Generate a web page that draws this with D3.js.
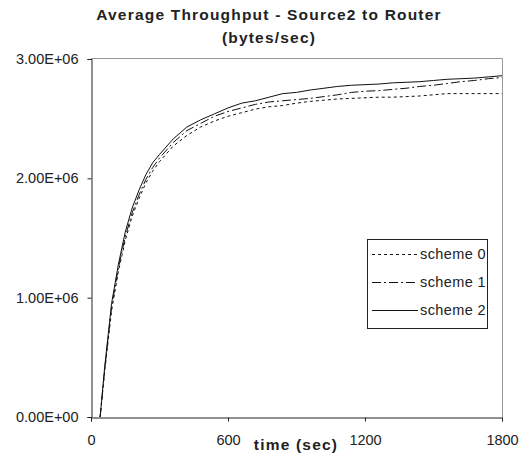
<!DOCTYPE html>
<meta charset="utf-8">
<title>Average Throughput - Source2 to Router</title>
<script src="https://d3js.org/d3.v7.min.js"></script>
<style>
  body { margin: 0; background: #fff; }
  text { font-family: "Liberation Sans", Arial, sans-serif; fill: #222; }
</style>
<body>
<svg id="chart" width="521" height="458"></svg>
</body>
<script>
    // time in seconds
    let times = [40, 60, 90, 120, 150, 180, 210, 240, 270, 300, 360, 420, 480, 540, 600,
        660, 720, 780, 840, 900, 960, 1020, 1080, 1140, 1200, 1260, 1320, 1380, 1440,
        1500, 1560, 1620, 1680, 1740, 1800]

    // throughput, bytes/sec
    let scheme0 = [0, 0.38e6, 0.89e6, 1.22e6, 1.48e6, 1.68e6, 1.83e6, 1.96e6, 2.06e6, 2.14e6,
        2.27e6, 2.36e6, 2.43e6, 2.48e6, 2.52e6, 2.55e6, 2.58e6, 2.60e6, 2.61e6, 2.63e6,
        2.645e6, 2.655e6, 2.665e6, 2.67e6, 2.675e6, 2.68e6, 2.68e6, 2.685e6, 2.69e6,
        2.70e6, 2.71e6, 2.71e6, 2.71e6, 2.71e6, 2.71e6]
    let scheme1 = [0, 0.40e6, 0.92e6, 1.25e6, 1.51e6, 1.71e6, 1.86e6, 1.99e6, 2.09e6, 2.17e6,
        2.30e6, 2.40e6, 2.46e6, 2.52e6, 2.56e6, 2.59e6, 2.62e6, 2.64e6, 2.65e6, 2.66e6,
        2.67e6, 2.685e6, 2.70e6, 2.72e6, 2.73e6, 2.735e6, 2.745e6, 2.755e6, 2.77e6,
        2.78e6, 2.795e6, 2.81e6, 2.82e6, 2.835e6, 2.845e6]
    let scheme2 = [0, 0.42e6, 0.95e6, 1.28e6, 1.55e6, 1.75e6, 1.90e6, 2.03e6, 2.13e6, 2.20e6,
        2.33e6, 2.43e6, 2.49e6, 2.54e6, 2.59e6, 2.63e6, 2.65e6, 2.68e6, 2.71e6, 2.72e6,
        2.74e6, 2.755e6, 2.77e6, 2.78e6, 2.785e6, 2.79e6, 2.80e6, 2.805e6, 2.81e6,
        2.82e6, 2.83e6, 2.835e6, 2.84e6, 2.85e6, 2.86e6]

    let seriesNames = ["scheme 0", "scheme 1", "scheme 2"]
    let xTicks = [0, 600, 1200, 1800]
    let yTicks = [0, 1e6, 2e6, 3e6]

    let dashes = ["3,3", "9,3,2,3", null]
    let series = [scheme0, scheme1, scheme2]

    let svg = d3.select("#chart")
    let pLeft = 91, pRight = 502, pTop = 59, pBottom = 417

    let x = d3.scaleLinear().domain([0, 1800]).range([pLeft, pRight])
    let y = d3.scaleLinear().domain([0, 3e6]).range([pBottom, pTop])

    // plot area border (grey) on top and right
    svg.append("path")
        .attr("d", `M${pLeft},${pTop - 0.5}H${pRight + 0.5}V${pBottom}`)
        .attr("fill", "none")
        .attr("stroke", "#999")

    let sci = v => {
        let [m, e] = v.toExponential(2).split("e")
        let n = Math.abs(+e)
        return m + "E" + (+e < 0 ? "-" : "+") + (n < 10 ? "0" + n : n)
    }

    svg.append("g")
        .attr("transform", `translate(${pLeft + 0.5},0)`)
        .call(d3.axisLeft(y).tickValues(yTicks).tickFormat(sci).tickSize(4).tickPadding(9))
    svg.append("g")
        .attr("transform", `translate(0,${pBottom + 0.5})`)
        .call(d3.axisBottom(x).tickValues(xTicks).tickFormat(d3.format("d")).tickSize(4).tickPadding(13))

    svg.selectAll(".tick text")
        .style("font-family", "'Liberation Sans', Arial, sans-serif")
        .style("font-size", "14.5px")
        .attr("fill", "#222")
    svg.selectAll(".domain, .tick line").attr("stroke", "#222")

    let line = d3.line()
        .x((d, i) => x(times[i]))
        .y(d => y(d))

    series.forEach((s, k) => {
        svg.append("path")
            .datum(s)
            .attr("d", line)
            .attr("fill", "none")
            .attr("stroke", "#111")
            .attr("stroke-width", 1)
            .attr("stroke-dasharray", dashes[k])
    })

    // titles
    let bold = sel => sel.style("font-size", "15.5px").style("font-weight", "bold")
        .style("letter-spacing", "1.2px").attr("text-anchor", "middle")
    svg.append("text")
        .attr("x", 269).attr("y", 20)
        .call(bold)
        .text("Average Throughput - Source2 to Router")
    svg.append("text")
        .attr("x", 269).attr("y", 43)
        .call(bold)
        .text("(bytes/sec)")
    svg.append("text")
        .attr("x", 296).attr("y", 450)
        .call(bold)
        .text("time (sec)")

    // legend
    let legend = svg.append("g").attr("transform", "translate(367,239)")
    legend.append("rect")
        .attr("x", 0.5).attr("y", 0.5)
        .attr("width", 120).attr("height", 89)
        .attr("fill", "#fff").attr("stroke", "#222")
    seriesNames.forEach((name, k) => {
        let ly = 15 + k * 28
        legend.append("line")
            .attr("x1", 5).attr("x2", 51)
            .attr("y1", ly + 0.5).attr("y2", ly + 0.5)
            .attr("stroke", "#111")
            .attr("stroke-dasharray", dashes[k])
        legend.append("text")
            .attr("x", 53).attr("y", ly + 5)
            .style("font-size", "14.5px")
            .style("letter-spacing", "0.4px")
            .text(name)
    })
</script>
